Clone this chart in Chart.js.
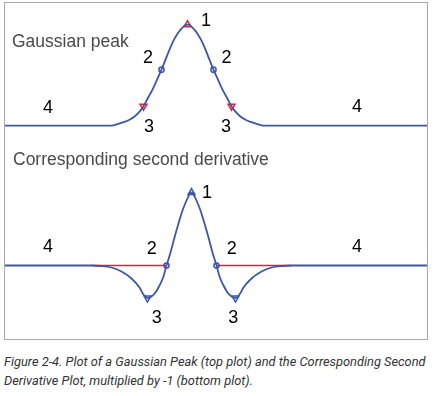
<!DOCTYPE html>
<html>
<head>
<meta charset="utf-8">
<script src="https://cdn.jsdelivr.net/npm/chart.js@4"></script>
<style>
  html, body { margin: 0; padding: 0; background: #fff; }
  #box { position: absolute; left: 4px; top: 2px; width: 422px; height: 336px; border: 1px solid #a8a8a8; }
  #box canvas { position: absolute; left: 0; }
  #cap { position: absolute; left: 4px; top: 353px; width: 429px; font-family: Roboto, "Liberation Sans", sans-serif;
         font-style: italic; font-size: 12.85px; line-height: 18.5px; color: #333; }
</style>
</head>
<body>
<div id="box">
  <canvas id="top" width="422" height="137" style="top:0"></canvas>
  <canvas id="bot" width="422" height="199" style="top:137px"></canvas>
</div>
<div id="cap">Figure 2-4. Plot of a Gaussian Peak (top plot) and the Corresponding Second Derivative Plot, multiplied by -1 (bottom plot).</div>
<script>
// ---- data (x: sample position, y: signal) ----
const peakX = [0, 106.5, 112.5, 118.5, 124.5, 130.5, 134.5, 138.5, 142.5, 147.5, 152.5, 156.5, 160.5, 164.5, 168.5, 172.5, 176.5, 179.5, 182.5,
               185.5, 188.5, 192.5, 196.5, 200.5, 204.5, 208.5, 212.5, 217.5, 222.5, 226.5, 230.5, 234.5, 240.5, 246.5, 252.5, 258.5, 422];
const peakY = [0, 0, 1.5, 3.5, 6, 10, 14, 19.5, 27, 36, 47, 56, 66, 76, 85, 92, 97, 100, 101,
               100, 97, 92, 85, 76, 66, 56, 47, 36, 27, 19.5, 14, 10, 6, 3.5, 1.5, 0, 0];
const peakMaxX = [182.5];       const peakMaxY = [101];
const peakInflX = [156.5, 208.5]; const peakInflY = [56, 56];
const peakBaseX = [138.5, 226.5]; const peakBaseY = [19.5, 19.5];

const derivX = [0, 86.5, 96.5, 106.5, 116.5, 126.5, 134.5, 138.5, 142.5, 146.5, 150.5, 154.5, 158.5, 161.5, 165.5, 169.5, 173.5, 177.5, 181.5, 184.5, 186.5,
                188.5, 191.5, 195.5, 199.5, 203.5, 207.5, 211.5, 214.5, 218.5, 222.5, 226.5, 230.5, 234.5, 238.5, 246.5, 256.5, 266.5, 276.5, 286.5, 422];
const derivY = [0, 0, -0.5, -2, -6, -13, -22, -29, -32.5, -31, -27, -20, -11, 0, 13, 28, 42, 55, 65, 71, 73,
                71, 65, 55, 42, 28, 13, 0, -11, -20, -27, -31, -32.5, -29, -22, -13, -6, -2, -0.5, 0, 0];
const zeroLineX = [86.5, 161.5, 186.5, 211.5, 286.5];
const zeroLineY = [0, 0, null, 0, 0];
const derivMaxX = [186.5];        const derivMaxY = [73];
const derivZeroX = [161.5, 211.5]; const derivZeroY = [0, 0];
const derivMinX = [142.5, 230.5];  const derivMinY = [-32.5, -32.5];

const topTitle = "Gaussian peak";
const botTitle = "Corresponding second derivative";
const topLabelText = ["1", "2", "2", "3", "3", "4", "4"];
const topLabelX    = [201, 143, 221.5, 144, 221, 43, 352];
const topLabelY    = [105, 67.7, 67.7, -1, -1.3, 17.7, 18.7];
const botLabelText = ["1", "2", "2", "3", "3", "4", "4"];
const botLabelX    = [202, 146.7, 226.7, 151.7, 228.3, 43, 352];
const botLabelY    = [72.5, 16.5, 16.5, -52.5, -52.5, 18.5, 18.5];

// ---- helpers ----
const BLUE = '#3d56aa', RED = '#e3232b';
const pts = (xs, ys) => xs.map((x, i) => ({ x: x, y: ys[i] }));

function labelPlugin(title, titleX, titleY, texts, xs, ys) {
  return {
    id: 'labels',
    afterDatasetsDraw(chart) {
      const ctx = chart.ctx, sx = chart.scales.x, sy = chart.scales.y;
      ctx.save();
      ctx.textBaseline = 'middle';
      ctx.font = '17.5px "Liberation Sans", Arial, sans-serif';
      ctx.fillStyle = '#4a4a4a';
      ctx.textAlign = 'left';
      ctx.fillText(title, sx.getPixelForValue(titleX), sy.getPixelForValue(titleY));
      ctx.font = '18px "Liberation Sans", Arial, sans-serif';
      ctx.fillStyle = '#000';
      ctx.textAlign = 'center';
      texts.forEach((t, i) => ctx.fillText(t, sx.getPixelForValue(xs[i]), sy.getPixelForValue(ys[i])));
      ctx.restore();
    }
  };
}

function baseOptions(ymin, ymax) {
  return {
    responsive: false, animation: false, devicePixelRatio: 1,
    layout: { padding: 0, autoPadding: false },
    plugins: { legend: { display: false }, tooltip: { enabled: false } },
    scales: {
      x: { type: 'linear', min: 0, max: 422, display: false },
      y: { type: 'linear', min: ymin, max: ymax, display: false }
    }
  };
}

const curve = (data) => ({ data, borderColor: BLUE, borderWidth: 1.8, pointRadius: 0, cubicInterpolationMode: 'monotone', fill: false, clip: false });
const marks = (data, style, color, rot) => ({ data, showLine: false, pointStyle: style, pointRadius: style === 'circle' ? 2.6 : 4,
  pointRotation: rot || 0, pointBorderColor: color, pointBackgroundColor: 'rgba(255,255,255,0.6)', pointBorderWidth: 1.5, clip: false });

new Chart(document.getElementById('top'), {
  type: 'line',
  data: { datasets: [
    curve(pts(peakX, peakY)),
    marks(pts(peakMaxX, peakMaxY), 'triangle', RED, 0),
    marks(pts(peakInflX, peakInflY), 'circle', BLUE, 0),
    marks(pts(peakBaseX, peakBaseY), 'triangle', RED, 180)
  ]},
  options: baseOptions(-14.3, 122.7),
  plugins: [labelPlugin(topTitle, 7, 83.7, topLabelText, topLabelX, topLabelY)]
});

new Chart(document.getElementById('bot'), {
  type: 'line',
  data: { datasets: [
    curve(pts(derivX, derivY)),
    { data: pts(zeroLineX, zeroLineY), borderColor: RED, borderWidth: 1.5, pointRadius: 0, spanGaps: false, fill: false },
    marks(pts(derivMaxX, derivMaxY), 'triangle', BLUE, 0),
    marks(pts(derivZeroX, derivZeroY), 'circle', BLUE, 0),
    marks(pts(derivMinX, derivMinY), 'triangle', BLUE, 180)
  ]},
  options: baseOptions(-73.5, 125.5),
  plugins: [labelPlugin(botTitle, 8, 105.5, botLabelText, botLabelX, botLabelY)]
});
</script>
</body>
</html>
